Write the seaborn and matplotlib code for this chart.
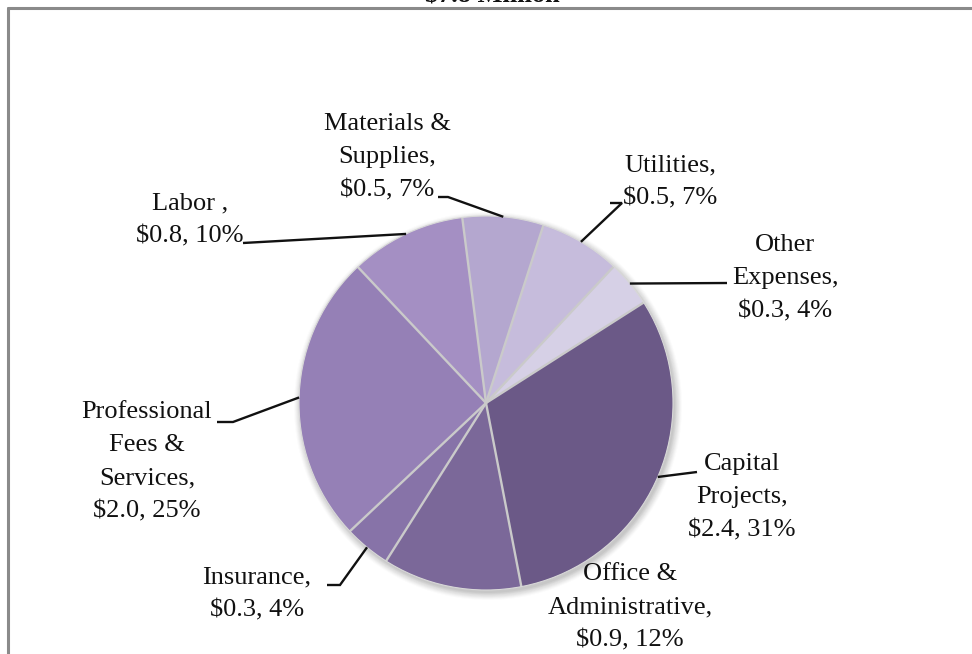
import matplotlib
matplotlib.use("Agg")
import matplotlib.pyplot as plt
from matplotlib.patches import Circle
import numpy as np
import seaborn as sns

# Budget breakdown ($ millions and share of total)
categories = ["Capital\nProjects,", "Office &\nAdministrative,", "Insurance,",
              "Professional\nFees &\nServices,", "Labor ,", "Materials &\nSupplies,",
              "Utilities,", "Other\nExpenses,"]
amounts = [2.4, 0.9, 0.3, 2.0, 0.8, 0.5, 0.5, 0.3]
percents = [31, 12, 4, 25, 10, 7, 7, 4]
title_text = "\\$7.8 Million"

colors = sns.color_palette(["#6B5987", "#7B6899", "#8773A8", "#9580B6",
                            "#A48FC3", "#B4A7CF", "#C6BCDC", "#D6D0E6"])

sns.set_theme(style="white")
plt.rcParams["font.family"] = ["Liberation Serif", "DejaVu Serif"]

W, H = 972, 654
fig = plt.figure(figsize=(W / 100, H / 100), dpi=100)
ax = fig.add_axes([0, 0, 1, 1])

cx, cy, R = 486, H - 403, 187

# soft drop shadow behind the pie
for i, a in enumerate([0.06, 0.055, 0.05, 0.045, 0.04, 0.035, 0.03, 0.02]):
    ax.add_patch(Circle((cx + 2, cy - 3), R + i, color="#4A4A4A",
                        alpha=a, lw=0, zorder=0))

wedges, _ = ax.pie(percents, colors=colors, startangle=32.5, counterclock=False,
                   center=(cx, cy), radius=R, frame=True,
                   wedgeprops=dict(linewidth=0))
for w in wedges:
    w.set_zorder(2)
    # light separator along each wedge's leading edge
    th = np.deg2rad(w.theta1)
    ax.plot([cx, cx + R * np.cos(th)], [cy, cy + R * np.sin(th)],
            color="#CACACA", lw=1.7, solid_capstyle="butt", zorder=3)
ax.add_patch(Circle((cx, cy), R, fill=False, ec="#D8D8D8", lw=0.8, zorder=3))

# label layout: text center (x, y of first line) and leader elbow points
layout = {
    0: dict(tx=742, ty=464, pts=[(697, 472)]),
    1: dict(tx=630, ty=574, pts=None),
    2: dict(tx=257, ty=577, pts=[(340, 585), (327, 585)]),
    3: dict(tx=147, ty=412, pts=[(233, 422), (217, 422)]),
    4: dict(tx=190, ty=203, pts=[(243, 243)]),
    5: dict(tx=387, ty=124, pts=[(448, 197), (438, 197)]),
    6: dict(tx=670, ty=165, pts=[(622, 203), (610, 203)]),
    7: dict(tx=785, ty=245, pts=[(727, 283)]),
}

line_h = 33
for i, w in enumerate(wedges):
    lay = layout[i]
    text = f"{categories[i]}\n\\${amounts[i]:.1f}, {percents[i]}%"
    lines = text.split("\n")
    for k, ln in enumerate(lines):
        ax.text(lay["tx"], H - (lay["ty"] + k * line_h), ln, ha="center",
                va="center", fontsize=19, color="#111111", zorder=5)
    if lay["pts"]:
        mid = np.deg2rad((w.theta1 + w.theta2) / 2)
        ax_pt = (cx + R * np.cos(mid), cy + R * np.sin(mid))
        xs = [ax_pt[0]] + [p[0] for p in lay["pts"]]
        ys = [ax_pt[1]] + [H - p[1] for p in lay["pts"]]
        ax.plot(xs, ys, color="#111111", lw=1.7, solid_capstyle="butt",
                solid_joinstyle="miter", zorder=4)

# title sits partly above the visible area
ax.text(492, H - 2, title_text, ha="center", va="baseline", fontsize=19,
        fontweight="bold", color="#111111", zorder=5)

# chart area border
ax.plot([8, W + 5], [H - 8, H - 8], color="#8A8A8A", lw=2.2, zorder=6)
ax.plot([8, 8], [H - 8, -5], color="#8A8A8A", lw=2.2, zorder=6)

ax.set_xlim(0, W)
ax.set_ylim(0, H)
ax.set_aspect("equal")
ax.axis("off")

fig.savefig("out.png", dpi=100)
